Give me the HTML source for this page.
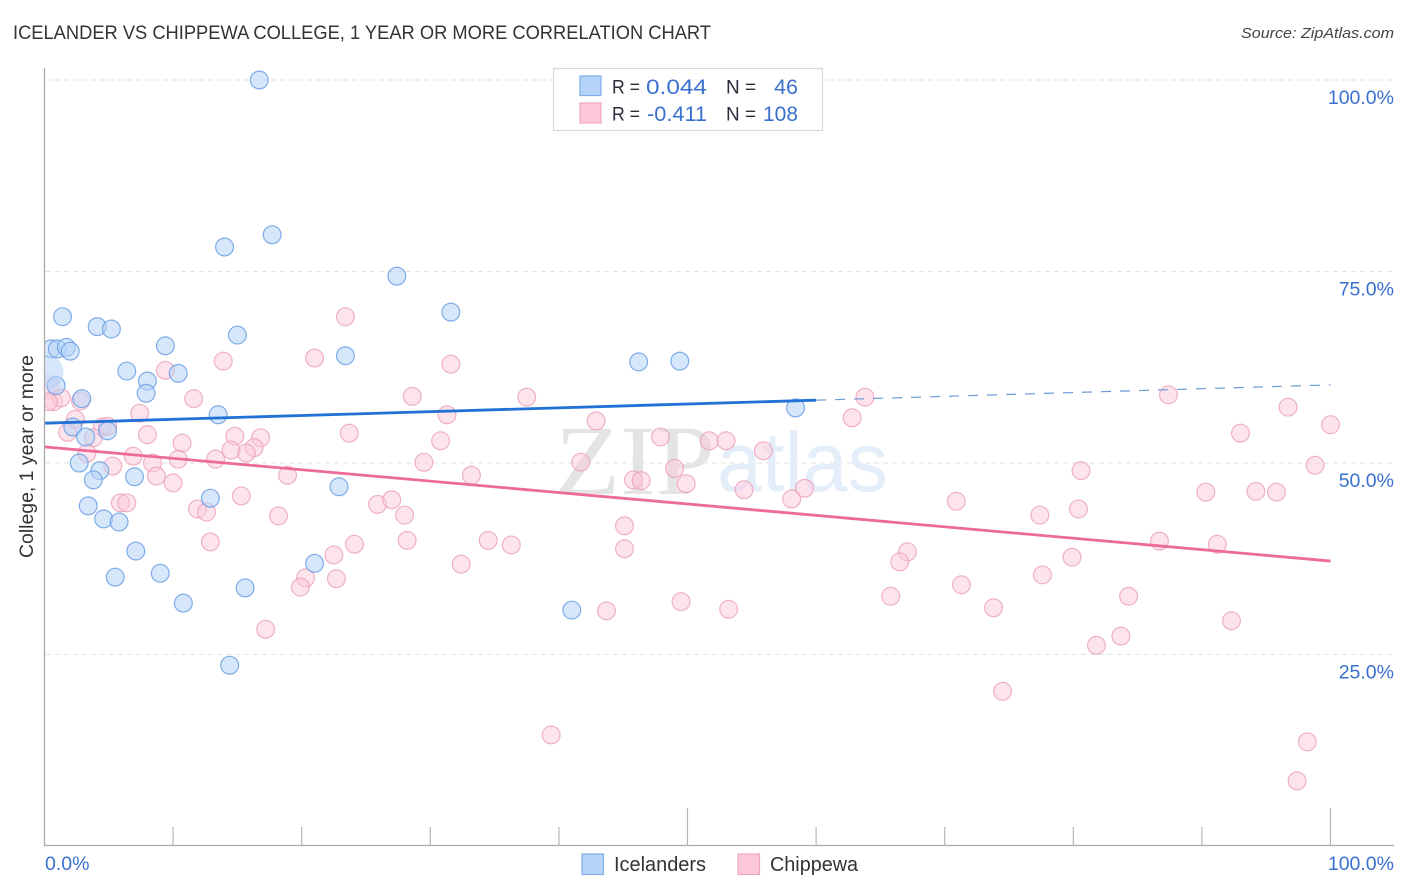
<!DOCTYPE html>
<html lang="en">
<head>
<meta charset="utf-8">
<title>Icelander vs Chippewa College, 1 Year or More Correlation Chart</title>
<style>
  html, body { margin: 0; padding: 0; background: #fff; }
  body { width: 1406px; height: 892px; overflow: hidden; font-family: "Liberation Sans", sans-serif; }
  svg { display: block; }
  text { font-family: "Liberation Sans", sans-serif; }
</style>
</head>
<body>
<svg id="chart" xmlns="http://www.w3.org/2000/svg" width="1406" height="892" viewBox="0 0 1406 892">
  <defs>
    <clipPath id="plot-clip"><rect x="44.5" y="60" width="1350" height="786"/></clipPath>
  </defs>
  <rect x="0" y="0" width="1406" height="892" fill="#ffffff"/>

  <text x="13" y="39" font-size="19" fill="#333333" textLength="698" lengthAdjust="spacingAndGlyphs">ICELANDER VS CHIPPEWA COLLEGE, 1 YEAR OR MORE CORRELATION CHART</text>
  <text x="1241" y="38" font-size="15" font-style="italic" fill="#444444" textLength="153" lengthAdjust="spacingAndGlyphs">Source: ZipAtlas.com</text>

  <g id="grid"></g>

  <g>
    <text x="555" y="494" font-size="100" fill="#e4e4e4" style="font-family:'Liberation Serif',serif" textLength="160" lengthAdjust="spacingAndGlyphs">ZIP</text>
    <text x="717" y="491" font-size="84" fill="#e4edfa" textLength="171" lengthAdjust="spacingAndGlyphs">atlas</text>
  </g>

  <g id="points" clip-path="url(#plot-clip)"></g>
  <g id="trends"></g>
  <g id="axes"></g>

  <text transform="translate(33,558) rotate(-90)" font-size="19" fill="#333333" textLength="203" lengthAdjust="spacingAndGlyphs">College, 1 year or more</text>

  <g>
    <rect x="553.5" y="68.5" width="269" height="62" fill="#ffffff" stroke="#d8d8d8" stroke-width="1.2"/>
    <rect x="580" y="76" width="21" height="19.5" fill="#b6d3f8" stroke="#80afe9" stroke-width="1.2"/>
    <rect x="580" y="103" width="21" height="20" fill="#fcc8d9" stroke="#efa6bf" stroke-width="1.2"/>
    <text x="612" y="93.5" font-size="19.5" fill="#2c2c3a" textLength="28" lengthAdjust="spacingAndGlyphs">R =</text>
    <text x="646" y="94" font-size="21.5" fill="#3a70cf" textLength="61" lengthAdjust="spacingAndGlyphs">0.044</text>
    <text x="726" y="93.5" font-size="19.5" fill="#2c2c3a" textLength="30" lengthAdjust="spacingAndGlyphs">N =</text>
    <text x="798" y="94" font-size="21.5" fill="#3a70cf" text-anchor="end">46</text>
    <text x="612" y="120.5" font-size="19.5" fill="#2c2c3a" textLength="28" lengthAdjust="spacingAndGlyphs">R =</text>
    <text x="647" y="121" font-size="21.5" fill="#3a70cf" textLength="60" lengthAdjust="spacingAndGlyphs">-0.411</text>
    <text x="726" y="120.5" font-size="19.5" fill="#2c2c3a" textLength="30" lengthAdjust="spacingAndGlyphs">N =</text>
    <text x="763" y="121" font-size="21.5" fill="#3a70cf" textLength="35" lengthAdjust="spacingAndGlyphs">108</text>
  </g>

  <g>
    <g>
      <rect x="582" y="854" width="21.5" height="20.5" fill="#b6d3f8" stroke="#80afe9" stroke-width="1.2"/>
      <text x="614" y="871" font-size="20" fill="#333333" textLength="92" lengthAdjust="spacingAndGlyphs">Icelanders</text>
    </g>
    <g>
      <rect x="738" y="854" width="21.5" height="20.5" fill="#fcc8d9" stroke="#efa6bf" stroke-width="1.2"/>
      <text x="770" y="871" font-size="20" fill="#333333" textLength="88" lengthAdjust="spacingAndGlyphs">Chippewa</text>
    </g>
  </g>
</svg>

<script>
// ---- Data (percent values) ----
const icelandersX = [16.7,17.7,14.0,27.4,31.6,1.4,4.1,5.2,15.0,9.4,0.5,1.0,1.7,2.0,23.4,46.2,49.4,6.4,10.4,8.0,7.9,0.9,2.9,13.5,58.4,2.2,4.9,3.2,2.7,4.3,3.8,7.0,22.9,12.9,3.4,4.6,5.8,7.1,21.0,5.5,9.0,15.6,10.8,41.0,14.4,0.2];
const icelandersY = [100,79.8,78.2,74.4,69.7,69.1,67.8,67.5,66.7,65.3,64.9,64.9,65.1,64.6,64.0,63.2,63.3,62.0,61.7,60.7,59.1,60.1,58.4,56.3,57.2,54.7,54.2,53.4,50.0,49.0,47.8,48.2,46.9,45.4,44.4,42.7,42.3,38.5,36.9,35.1,35.6,33.7,31.7,30.8,23.6,61.9];
const icelandersWeight = [1,1,1,1,1,1,1,1,1,1,1,1,1,1,1,1,1,1,1,1,1,1,1,1,1,1,1,1,1,1,1,1,1,1,1,1,1,1,1,1,1,1,1,1,1,3];

const chippewaX = [23.4,13.9,21.0,31.6,9.4,28.6,11.6,37.5,63.8,87.4,96.7,7.4,31.3,62.8,100.0,42.9,4.5,4.9,2.4,1.8,3.8,3.3,8.0,23.7,30.8,10.7,14.8,16.8,16.3,15.7,14.5,6.9,13.3,10.4,8.4,5.3,29.5,47.9,51.7,53.0,55.9,93.0,98.8,41.7,49.0,80.6,18.9,8.7,10.0,33.2,45.8,46.4,49.9,54.4,59.1,58.1,15.3,5.9,6.4,11.9,12.6,18.2,25.9,27.0,28.0,70.9,77.4,80.4,90.3,94.2,95.8,45.1,12.9,28.2,24.1,34.5,36.3,45.1,86.7,91.2,22.5,32.4,67.1,66.5,79.9,20.3,22.7,19.9,77.6,71.3,65.8,84.3,49.5,43.7,53.2,73.8,92.3,17.2,83.7,81.8,74.5,39.4,98.2,97.4,0.2,0.7,1.3,2.8,0.3];
const chippewaY = [69.1,63.3,63.7,62.9,62.1,58.7,58.4,58.6,58.6,58.9,57.3,56.5,56.3,55.9,55.0,55.5,54.7,54.8,55.7,54.0,53.3,51.3,53.7,53.9,52.9,52.6,53.5,53.3,52.0,51.3,51.7,50.9,50.5,50.5,50.0,49.6,50.1,53.4,52.9,52.9,51.6,53.9,49.7,50.1,49.3,49.0,48.4,48.3,47.4,48.4,47.8,47.7,47.3,46.5,46.7,45.3,45.7,44.8,44.8,44.0,43.6,43.1,44.6,45.2,43.2,45.0,43.2,44.0,46.2,46.3,46.2,41.8,39.7,39.9,39.4,39.9,39.3,38.8,39.8,39.4,38.0,36.8,38.4,37.1,37.7,35.0,34.9,33.8,35.4,34.1,32.6,32.6,31.9,30.7,30.9,31.1,29.4,28.3,27.4,26.2,20.2,14.5,13.6,8.5,59.9,58.0,58.5,58.1,58.0];
const chippewaWeight = [1,1,1,1,1,1,1,1,1,1,1,1,1,1,1,1,1,1,1,1,1,1,1,1,1,1,1,1,1,1,1,1,1,1,1,1,1,1,1,1,1,1,1,1,1,1,1,1,1,1,1,1,1,1,1,1,1,1,1,1,1,1,1,1,1,1,1,1,1,1,1,1,1,1,1,1,1,1,1,1,1,1,1,1,1,1,1,1,1,1,1,1,1,1,1,1,1,1,1,1,1,1,1,1,2,1,1,1,1];

const icelandersTrendX = [0, 60, 100];
const icelandersTrendY = [55.2, 58.2, 60.2];
const chippewaTrendX = [0, 100];
const chippewaTrendY = [52.1, 37.2];

const xTickValues = [10,20,30,40,50,60,70,80,90,100];
const xMajorTicks = [50,100];
const xTickLabels = ["0.0%","100.0%"];
const yTickValues = [100,75,50,25];
const yTickLabels = ["100.0%","75.0%","50.0%","25.0%"];

// ---- Axis functions ----
function xScale(v) { return 44.5 + v * 12.86; }
function yScale(v) { return 846 - v * 7.66; }

const NS = "http://www.w3.org/2000/svg";
function make(tag, attrs, parent) {
  const el = document.createElementNS(NS, tag);
  for (const k in attrs) el.setAttribute(k, attrs[k]);
  parent.appendChild(el);
  return el;
}

// Grid
const gridG = document.getElementById("grid");
yTickValues.forEach(function (v) {
  const gl = make("line", {x1: 46, x2: 1393, y1: yScale(v), y2: yScale(v), stroke: "#e2e2e2", "stroke-width": 1, "stroke-dasharray": "5 4"}, gridG);
  
  
});

// Points
const pointsG = document.getElementById("points");
function drawSeries(xs, ys, weights, fill, stroke, fillOpacity, strokeOpacity, name) {
  xs.forEach(function (x, i) {
    const w = weights[i];
    const big = w > 1;
    const c = make("circle", {
      cx: xScale(x), cy: yScale(ys[i]),
      r: big ? 8.9 * (1 + (w - 1) * 0.4) : 8.9,
      fill: fill, "fill-opacity": big ? 0.55 : fillOpacity,
      stroke: stroke, "stroke-opacity": big ? 0.15 : strokeOpacity, "stroke-width": 1.2
    }, pointsG);
    
    
  });
}
drawSeries(chippewaX, chippewaY, chippewaWeight, "#fbc9d9", "#eb9fb9", 0.5, 0.8, "chippewa-point");
drawSeries(icelandersX, icelandersY, icelandersWeight, "#b6d3f8", "#6a9fe4", 0.55, 0.85, "icelanders-point");

// Trend lines
const trendsG = document.getElementById("trends");
const bSolid = make("line", {x1: xScale(icelandersTrendX[0]), y1: yScale(icelandersTrendY[0]), x2: xScale(icelandersTrendX[1]), y2: yScale(icelandersTrendY[1]), stroke: "#2272d6", "stroke-width": 2.8}, trendsG);


const bDash = make("line", {x1: xScale(icelandersTrendX[1]), y1: yScale(icelandersTrendY[1]), x2: xScale(icelandersTrendX[2]), y2: yScale(icelandersTrendY[2]), stroke: "#6c9bd6", "stroke-width": 1.2, "stroke-dasharray": "10 9"}, trendsG);


const pSolid = make("line", {x1: xScale(chippewaTrendX[0]), y1: yScale(chippewaTrendY[0]), x2: xScale(chippewaTrendX[1]), y2: yScale(chippewaTrendY[1]), stroke: "#ec6b99", "stroke-width": 2.8}, trendsG);



// Axes
const axesG = document.getElementById("axes");
const yAxis = make("line", {x1: 44.5, x2: 44.5, y1: 68, y2: 846, stroke: "#ababab", "stroke-width": 1.3}, axesG);


const xAxis = make("line", {x1: 44, x2: 1394, y1: 845.5, y2: 845.5, stroke: "#ababab", "stroke-width": 1.3}, axesG);



xTickValues.forEach(function (v) {
  const top = xMajorTicks.indexOf(v) >= 0 ? 808 : 827;
  const t = make("line", {x1: xScale(v), x2: xScale(v), y1: top, y2: 846, stroke: "#b5b5b5", "stroke-width": 1.2}, axesG);
  
  
});

yTickValues.forEach(function (v, i) {
  const lbl = make("text", {x: 1394, y: yScale(v) + 24, "font-size": 19.5, fill: "#3a70cf", "text-anchor": "end"}, axesG);
  lbl.textContent = yTickLabels[i];
  
  
});

const xLabel0 = make("text", {x: 45, y: 870, "font-size": 19.5, fill: "#3a70cf"}, axesG);
xLabel0.textContent = xTickLabels[0];


const xLabel100 = make("text", {x: 1394, y: 870, "font-size": 19.5, fill: "#3a70cf", "text-anchor": "end"}, axesG);
xLabel100.textContent = xTickLabels[1];


</script>
</body>
</html>
